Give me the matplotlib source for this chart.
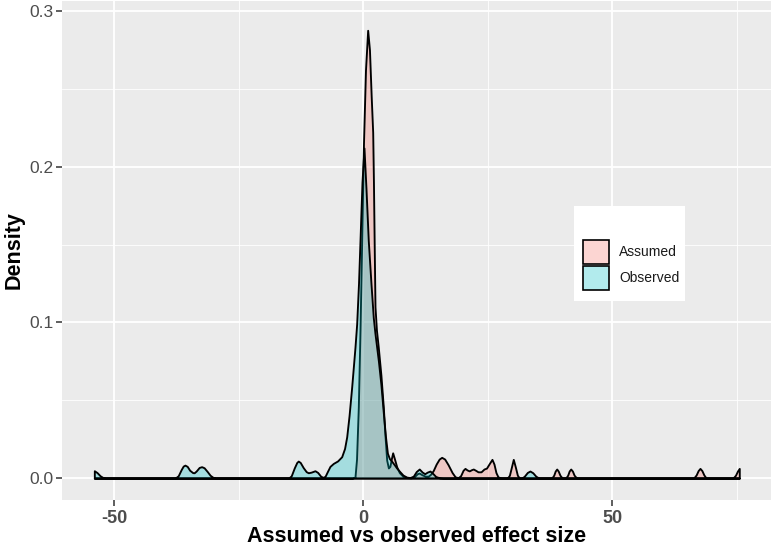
import matplotlib
matplotlib.use('Agg')
import matplotlib.pyplot as plt
from matplotlib.patches import Rectangle

# ---- data (density curves) ----
series_names = ['Assumed', 'Observed']

asm_x = [-54.05, -2.2, -1.71, -1.4, -1.04, -0.7, -0.36, 0.0, 0.4, 0.84, 1.2, 1.55,
         1.85, 2.0, 2.15, 2.31, 2.6, 2.97, 3.5, 3.98, 4.3, 4.66, 5.0, 5.3, 5.6, 5.86,
         6.2, 6.67, 7.2, 7.9, 8.7, 9.6, 10.3, 10.8, 11.2, 11.7, 12.4, 13.0, 13.5, 14.0,
         14.6, 15.2, 15.7, 16.3, 17.0, 17.8, 18.4, 19.0, 19.5, 20.0, 20.38, 20.8, 21.24,
         21.7, 22.05, 22.5, 23.0, 23.6, 24.2, 24.7, 25.2, 25.8, 26.2, 26.6, 27.0, 27.6,
         28.9, 29.3, 29.7, 30.08, 30.5, 30.9, 31.3, 37.8, 38.2, 38.5, 38.8, 39.1, 39.45,
         39.9, 40.6, 41.0, 41.3, 41.61, 41.95, 42.3, 42.8, 66.3, 66.8, 67.2, 67.57, 67.95,
         68.35, 68.8, 74.2, 74.7, 75.1, 75.46]
asm_y = [0.0, 0.0, 0.0006, 0.012, 0.0455, 0.095, 0.1526, 0.215, 0.262, 0.2876, 0.275, 0.245,
         0.222, 0.19, 0.15, 0.11, 0.095, 0.084, 0.066, 0.0455, 0.028, 0.0115, 0.0065, 0.0075, 0.0125, 0.0162,
         0.0125, 0.0072, 0.0035, 0.0012, 0.0003, 0.0002, 0.0012, 0.0028, 0.0032, 0.0022, 0.0012, 0.0012, 0.0025, 0.0048,
         0.0090, 0.0122, 0.0133, 0.0122, 0.0085, 0.0035, 0.0008, 0.0002, 0.0015, 0.0050, 0.0062, 0.0052, 0.0046,
         0.0054, 0.0058, 0.0050, 0.0040, 0.0040, 0.0058, 0.0064, 0.0090, 0.0120, 0.0090, 0.0035, 0.0008, 0.0,
         0.0, 0.0018, 0.0070, 0.0120, 0.0070, 0.0018, 0.0, 0.0, 0.0018, 0.0045, 0.0058, 0.0045, 0.0018,
         0.0, 0.0, 0.0018, 0.0045, 0.0058, 0.0045, 0.0018, 0.0, 0.0, 0.0020, 0.0048, 0.0062, 0.0048,
         0.0020, 0.0, 0.0, 0.0018, 0.0045, 0.0062]

obs_x = [-54.05, -53.5, -52.9, -52.3, -51.8, -37.8, -37.2, -36.6, -36.2, -35.85, -35.4, -34.9,
         -34.3, -34.0, -33.6, -33.0, -32.5, -32.0, -31.4, -30.8, -30.2, -29.7, -15.0, -14.5,
         -13.9, -13.4, -13.1, -12.7, -12.1, -11.5, -11.08, -10.5, -9.74, -9.2, -8.6, -8.1,
         -7.7, -7.2, -6.73, -6.06, -5.2, -4.38, -3.8, -3.37, -2.9, -2.37, -1.71, -1.37, -1.0,
         -0.7, -0.3, 0.1, 0.5, 0.96, 1.5, 1.97, 2.3, 2.65, 3.0, 3.5, 3.98, 4.4, 4.8, 5.2,
         5.66, 6.2, 6.67, 7.33, 7.93, 8.67, 9.34, 10.0, 10.6, 11.2, 11.8, 12.3, 12.8, 13.35,
         13.9, 14.5, 15.3, 16.0, 31.8, 32.3, 32.9, 33.43, 34.0, 34.6, 35.2, 75.46]
obs_y = [0.0047, 0.0035, 0.0015, 0.0003, 0.0, 0.0, 0.0015, 0.0055, 0.0077, 0.0083, 0.0075, 0.0050,
         0.0035, 0.0034, 0.0045, 0.0068, 0.0073, 0.0066, 0.0043, 0.0018, 0.0004, 0.0, 0.0, 0.0015,
         0.0065, 0.0100, 0.0109, 0.0100, 0.0067, 0.0041, 0.0034, 0.0038, 0.0047, 0.0036, 0.0012, 0.0004,
         0.0012, 0.0045, 0.0075, 0.0094, 0.0110, 0.0137, 0.019, 0.0265, 0.040, 0.0585, 0.084, 0.099, 0.125,
         0.1526, 0.19, 0.212, 0.186, 0.1526, 0.125, 0.103, 0.093, 0.084, 0.075, 0.060, 0.042, 0.027, 0.016, 0.0125,
         0.0108, 0.0085, 0.0064, 0.0040, 0.0019, 0.0006, 0.0003, 0.0012, 0.0042, 0.0058, 0.0038, 0.0028, 0.0038, 0.0045,
         0.0030, 0.0010, 0.0001, 0.0, 0.0, 0.0012, 0.0036, 0.0045, 0.0034, 0.0012, 0.0, 0.0]

x_ticks = [-50, 0, 50]
x_minor = [-25, 25, 75]
y_ticks = [0.0, 0.1, 0.2, 0.3]
y_tick_labels = ['0.0', '0.1', '0.2', '0.3']
y_minor = [0.05, 0.15, 0.25]

# ---- styling ----
plt.rcParams['font.family'] = ['Liberation Sans', 'DejaVu Sans']
plt.rcParams['axes.unicode_minus'] = False
col_asm = (0.973, 0.463, 0.427, 0.3)
col_obs = (0.0, 0.749, 0.769, 0.3)

W, H = 776, 551
fig = plt.figure(figsize=(W / 100, H / 100), dpi=100)
fig.patch.set_facecolor('white')
ax = fig.add_axes([62 / W, (H - 500) / H, 709 / W, 499 / H])
ax.set_facecolor('#EBEBEB')

ax.fill_between(asm_x, 0, asm_y, facecolor=col_asm, edgecolor='black', linewidth=1.35,
                joinstyle='round', zorder=2)
ax.fill_between(obs_x, 0, obs_y, facecolor=col_obs, edgecolor='black', linewidth=1.35,
                joinstyle='round', zorder=3)

ax.set_xlim(-60.54, 81.83)
ax.set_ylim(-0.0141, 0.3064)
ax.set_xticks(x_ticks)
ax.set_xticks(x_minor, minor=True)
ax.set_yticks(y_ticks)
ax.set_yticklabels(y_tick_labels)
ax.set_yticks(y_minor, minor=True)
ax.grid(which='major', color='white', linewidth=1.3)
ax.grid(which='minor', color='white', linewidth=0.6)
ax.set_axisbelow(True)
for s in ax.spines.values():
    s.set_visible(False)
ax.tick_params(which='major', length=4, width=1.1, color='#333333')
ax.tick_params(which='minor', length=0)
ax.tick_params(axis='y', labelsize=12.5, labelcolor='#4D4D4D', pad=2)
ax.tick_params(axis='x', labelsize=13, labelcolor='#4D4D4D', pad=3)
for lab in ax.get_xticklabels():
    lab.set_fontweight('bold')

ax.set_xlabel('Assumed vs observed effect size', fontsize=15.5, fontweight='bold', color='black', va='center')
ax.xaxis.set_label_coords(0.5, (500 - 536) / 499)
ax.set_ylabel('Density', fontsize=15.5, fontweight='bold', color='black', va='center')
ax.yaxis.set_label_coords((14 - 62) / 709, 0.5)

# ---- legend ----
fig.add_artist(Rectangle((574 / W, (H - 301) / H), 111 / W, 95 / H, transform=fig.transFigure,
                         facecolor='white', edgecolor='none', zorder=5))
key_cols = [col_asm, col_obs]
key_tops = [240, 266]
for name, c, top in zip(series_names, key_cols, key_tops):
    fig.add_artist(Rectangle((583 / W, (H - top - 24) / H), 26 / W, 24 / H, transform=fig.transFigure,
                             facecolor=c, edgecolor='black', linewidth=1.2, zorder=6))
    fig.text(619 / W, (H - top - 12.5) / H, name, fontsize=10, color='#1A1A1A', va='center', ha='left', zorder=7)

fig.savefig('out.png', dpi=100)
